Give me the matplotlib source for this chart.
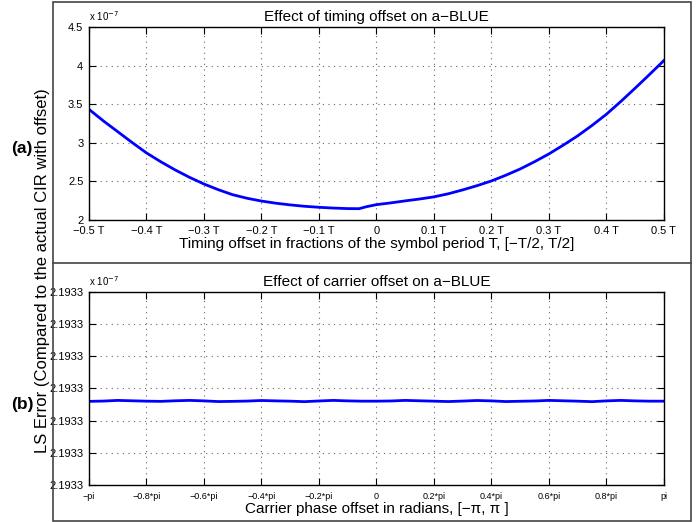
import matplotlib
matplotlib.use("Agg")
import matplotlib.pyplot as plt
from matplotlib.lines import Line2D
from matplotlib.patches import Rectangle

plt.rcParams['font.family'] = ['Liberation Sans', 'DejaVu Sans']

# (a) timing offset, fraction of T  ->  LS error (x 1e-7)
timing_offset = [-0.5, -0.475, -0.45, -0.425, -0.4, -0.375, -0.35, -0.325, -0.3, -0.275,
                 -0.25, -0.225, -0.2, -0.175, -0.15, -0.125, -0.1, -0.075, -0.05, -0.03,
                 -0.017, 0.0, 0.025, 0.05, 0.075, 0.1, 0.125, 0.15, 0.175, 0.2,
                 0.225, 0.25, 0.275, 0.3, 0.325, 0.35, 0.375, 0.4, 0.425, 0.45,
                 0.475, 0.5]
timing_err = [3.435, 3.285, 3.145, 3.005, 2.870, 2.755, 2.649, 2.553, 2.467, 2.393,
              2.328, 2.282, 2.246, 2.218, 2.196, 2.178, 2.165, 2.155, 2.148, 2.147,
              2.173, 2.199, 2.222, 2.248, 2.272, 2.300, 2.340, 2.390, 2.445, 2.506,
              2.580, 2.661, 2.755, 2.856, 2.970, 3.090, 3.225, 3.370, 3.535, 3.708,
              3.885, 4.066]
timing_ticks = [-0.5, -0.4, -0.3, -0.2, -0.1, 0, 0.1, 0.2, 0.3, 0.4, 0.5]
timing_labels = ['\u22120.5 T', '\u22120.4 T', '\u22120.3 T', '\u22120.2 T', '\u22120.1 T', '0',
                 '0.1 T', '0.2 T', '0.3 T', '0.4 T', '0.5 T']

# (b) carrier phase offset, multiples of pi -> LS error (x 1e-7)
phase_offset = [-1.0, -0.95, -0.9, -0.85, -0.8, -0.75, -0.7, -0.65, -0.6, -0.55,
                -0.5, -0.45, -0.4, -0.35, -0.3, -0.25, -0.2, -0.15, -0.1, -0.05,
                0.0, 0.05, 0.1, 0.15, 0.2, 0.25, 0.3, 0.35, 0.4, 0.45,
                0.5, 0.55, 0.6, 0.65, 0.7, 0.75, 0.8, 0.85, 0.9, 0.95, 1.0]
phase_err = [2.193299600, 2.193299609, 2.193299630, 2.193299618, 2.193299606, 2.193299600,
             2.193299618, 2.193299630, 2.193299615, 2.193299594, 2.193299600, 2.193299609,
             2.193299627, 2.193299615, 2.193299606, 2.193299591, 2.193299612, 2.193299630,
             2.193299615, 2.193299606, 2.193299606, 2.193299612, 2.193299630, 2.193299618,
             2.193299606, 2.193299594, 2.193299609, 2.193299627, 2.193299615, 2.193299594,
             2.193299603, 2.193299612, 2.193299630, 2.193299618, 2.193299606, 2.193299591,
             2.193299615, 2.193299630, 2.193299615, 2.193299606, 2.193299606]
phase_ticks = [-1, -0.8, -0.6, -0.4, -0.2, 0, 0.2, 0.4, 0.6, 0.8, 1]
phase_labels = ['\u2212pi', '\u22120.8*pi', '\u22120.6*pi', '\u22120.4*pi', '\u22120.2*pi', '0',
                '0.2*pi', '0.4*pi', '0.6*pi', '0.8*pi', 'pi']
phase_yticks = [2.193297, 2.193298, 2.193299, 2.193300, 2.193301, 2.193302, 2.193303]

fig = plt.figure(figsize=(7.0, 5.22), dpi=100)

# outer frame and separator (like the original composed figure)
fig.patches.append(Rectangle((53 / 700, 1 / 522), 638 / 700, 519 / 522, transform=fig.transFigure,
                             fill=False, edgecolor='#444444', linewidth=1.2))
fig.lines.append(Line2D([53 / 700, 691 / 700], [1 - 263 / 522, 1 - 263 / 522],
                        transform=fig.transFigure, color='#444444', linewidth=1.2))

ax1 = fig.add_axes([0.127, 0.5785, 0.8214, 0.3697])
ax2 = fig.add_axes([0.127, 0.0709, 0.8214, 0.3697])


def matlab_style(ax):
    ax.grid(True, linestyle=(0, (1, 4)), color='#666666', linewidth=0.8)
    ax.tick_params(direction='in', top=True, right=True, length=5, labelsize=8, pad=4)
    for s in ax.spines.values():
        s.set_linewidth(1.0)


ax1.plot(timing_offset, timing_err, color='#0000ff', linewidth=2.0)
ax1.set_xlim(-0.5, 0.5)
ax1.set_ylim(2, 4.5)
ax1.set_xticks(timing_ticks)
ax1.set_xticklabels(timing_labels)
ax1.set_yticks([2, 2.5, 3, 3.5, 4, 4.5])
ax1.set_yticklabels(['2', '2.5', '3', '3.5', '4', '4.5'])
matlab_style(ax1)
ax1.set_title('Effect of timing offset on a\u2212BLUE', fontsize=11, pad=4)
ax1.set_xlabel('Timing offset in fractions of the symbol period T, [\u2212T/2, T/2]', fontsize=11, labelpad=1)
ax1.text(0.0, 1.02, 'x 10$^{-7}$', transform=ax1.transAxes, fontsize=7, va='bottom', ha='left')

ax2.plot(phase_offset, phase_err, color='#0000ff', linewidth=2.0)
ax2.set_xlim(-1, 1)
ax2.set_ylim(2.193297, 2.193303)
ax2.set_xticks(phase_ticks)
ax2.set_xticklabels(phase_labels)
ax2.set_yticks(phase_yticks)
ax2.set_yticklabels(['%.4f' % v for v in phase_yticks])
matlab_style(ax2)
ax2.tick_params(axis='x', labelsize=6.5, pad=5)
ax2.set_title('Effect of carrier offset on a\u2212BLUE', fontsize=11, pad=4)
ax2.set_xlabel('Carrier phase offset in radians, [\u2212\u03c0, \u03c0 ]', fontsize=11, labelpad=1)
ax2.text(0.0, 1.02, 'x 10$^{-7}$', transform=ax2.transAxes, fontsize=7, va='bottom', ha='left')

fig.text(43 / 700, 1 - 271 / 522, 'LS Error (Compared to the actual CIR with offset)', rotation=90,
         fontsize=12, ha='center', va='center')
fig.text(22 / 700, 1 - 148 / 522, '(a)', fontsize=12.5, fontweight='bold', ha='center', va='center')
fig.text(22 / 700, 1 - 405 / 522, '(b)', fontsize=12.5, fontweight='bold', ha='center', va='center')

fig.savefig('out.png', dpi=100)
